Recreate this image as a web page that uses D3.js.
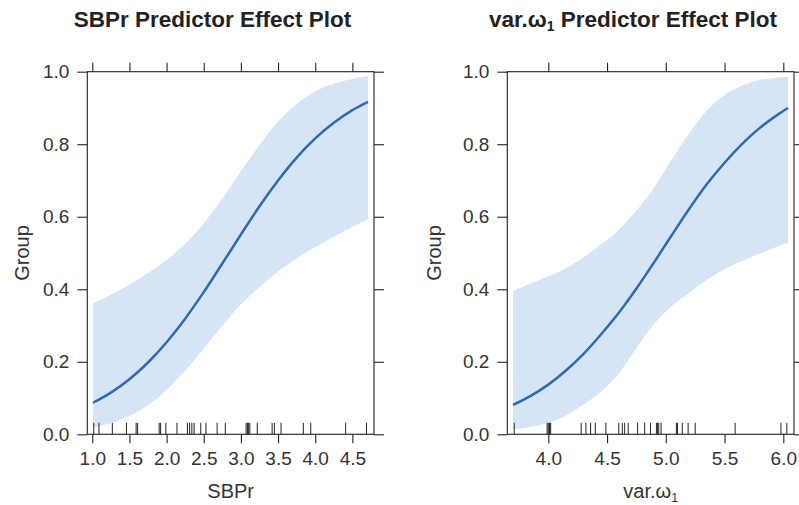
<!DOCTYPE html>
<html><head><meta charset="utf-8">
<script src="https://cdn.jsdelivr.net/npm/d3@7"></script>
<style>
body{margin:0;background:#fff}
text{font-family:"Liberation Sans",Arial,Helvetica,sans-serif}
</style>
</head><body>
<svg id="c" width="799" height="505"></svg>
<script>
// ---- data ----
const yTicks = [0.0, 0.2, 0.4, 0.6, 0.8, 1.0];

const sbprTicks = [1.0, 1.5, 2.0, 2.5, 3.0, 3.5, 4.0, 4.5];
const sbprX     = [1.01, 1.25, 1.5, 1.75, 2.0, 2.25, 2.5, 2.75, 3.0, 3.25, 3.5, 3.75, 4.0, 4.25, 4.5, 4.71];
const sbprFit   = [0.087, 0.115, 0.152, 0.198, 0.254, 0.319, 0.392, 0.471, 0.551, 0.629, 0.700, 0.763, 0.816, 0.859, 0.894, 0.917];
const sbprLower = [0.019, 0.031, 0.050, 0.080, 0.122, 0.175, 0.236, 0.300, 0.358, 0.406, 0.449, 0.485, 0.516, 0.545, 0.572, 0.593];
const sbprUpper = [0.361, 0.385, 0.413, 0.445, 0.481, 0.525, 0.582, 0.650, 0.725, 0.798, 0.862, 0.911, 0.946, 0.967, 0.980, 0.988];
const sbprRug   = [1.02,1.09,1.27,1.46,1.59,1.61,1.90,1.92,1.99,2.14,2.28,2.31,2.34,2.37,2.46,2.53,2.68,2.79,3.07,3.09,3.10,3.12,3.22,3.42,3.45,3.54,3.84,3.94,4.41,4.69];

const varTicks = [4.0, 4.5, 5.0, 5.5, 6.0];
const varX     = [3.70, 3.85, 4.0, 4.15, 4.3, 4.45, 4.6, 4.75, 4.9, 5.05, 5.2, 5.35, 5.5, 5.65, 5.8, 5.95, 6.04];
const varFit   = [0.081, 0.106, 0.137, 0.176, 0.222, 0.276, 0.335, 0.402, 0.474, 0.549, 0.622, 0.690, 0.749, 0.801, 0.845, 0.881, 0.900];
const varLower = [0.014, 0.021, 0.032, 0.051, 0.082, 0.118, 0.168, 0.238, 0.304, 0.354, 0.390, 0.426, 0.455, 0.478, 0.498, 0.518, 0.529];
const varUpper = [0.395, 0.416, 0.436, 0.458, 0.488, 0.524, 0.564, 0.617, 0.680, 0.758, 0.831, 0.893, 0.936, 0.962, 0.977, 0.983, 0.986];
const varRug   = [3.71,3.99,4.00,4.01,4.02,4.28,4.32,4.36,4.40,4.49,4.60,4.63,4.65,4.68,4.76,4.82,4.87,4.92,4.93,4.94,4.96,5.09,5.10,5.14,5.19,5.25,5.59,5.98,6.03];

// ---- styling / layout ----
const LINE = "#2f69b3", BAND = "#d5e5f5", INK = "#222", TXT = "#333";
const FONT = '"Liberation Sans",Arial,Helvetica,sans-serif';
const pTop = 71.7, pBottom = 434.3;

const panels = [
  {title: ["SBPr", null], xlab: ["SBPr", null], xs: sbprX, fit: sbprFit, lo: sbprLower, up: sbprUpper, rug: sbprRug,
   ticks: sbprTicks, dom: [0.933, 4.791], left: 87.3, right: 374, titleX: 212.5, ylabX: 22},
  {title: ["var.ω", "1"], xlab: ["var.ω", "1"], xs: varX, fit: varFit, lo: varLower, up: varUpper, rug: varRug,
   ticks: varTicks, dom: [3.651, 6.091], left: 507.3, right: 794, titleX: 633, ylabX: 434}
];

const svg = d3.select("#c");
const y = d3.scaleLinear().domain([0, 1]).range([pBottom, pTop]);

function addLabel(t, parts, suffix, shift) {
  t.append("tspan").text(parts[0]);
  if (parts[1]) {
    t.append("tspan").attr("dy", shift).attr("font-size", "62%").text(parts[1]);
    if (suffix) t.append("tspan").attr("dy", -shift).text(suffix);
  } else if (suffix) t.append("tspan").text(suffix);
}

panels.forEach(p => {
  const x = d3.scaleLinear().domain(p.dom).range([p.left, p.right]);
  const g = svg.append("g");
  const pts = p.xs.map((v, i) => ({x: v, f: p.fit[i], lo: p.lo[i], up: p.up[i]}));

  g.append("path").datum(pts).attr("fill", BAND)
    .attr("d", d3.area().x(d => x(d.x)).y0(d => y(d.lo)).y1(d => y(d.up)).curve(d3.curveMonotoneX));
  g.append("path").datum(pts).attr("fill", "none").attr("stroke", LINE).attr("stroke-width", 2.5)
    .attr("d", d3.line().x(d => x(d.x)).y(d => y(d.f)).curve(d3.curveMonotoneX));

  g.selectAll("line.rug").data(p.rug).join("line").attr("class", "rug")
    .attr("x1", d => x(d)).attr("x2", d => x(d))
    .attr("y1", pBottom).attr("y2", pBottom - 11.5)
    .attr("stroke", INK).attr("stroke-width", 1);

  g.append("rect").attr("x", p.left).attr("y", pTop).attr("width", p.right - p.left).attr("height", pBottom - pTop)
    .attr("fill", "none").attr("stroke", INK).attr("stroke-width", 1.1);

  const style = a => {
    a.select(".domain").remove();
    a.selectAll("line").attr("stroke", INK).attr("stroke-width", 1.1);
    a.selectAll("text").attr("fill", TXT).attr("font-family", FONT).attr("font-size", 19);
  };
  g.append("g").attr("transform", `translate(0,${pBottom})`)
    .call(d3.axisBottom(x).tickValues(p.ticks).tickFormat(d3.format(".1f")).tickSize(9).tickPadding(8))
    .call(style);
  g.append("g").attr("transform", `translate(0,${pTop})`)
    .call(d3.axisTop(x).tickValues(p.ticks).tickFormat("").tickSize(9))
    .call(style);
  g.append("g").attr("transform", `translate(${p.left},0)`)
    .call(d3.axisLeft(y).tickValues(yTicks).tickFormat(d3.format(".1f")).tickSize(10).tickPadding(8))
    .call(style);
  g.append("g").attr("transform", `translate(${p.right},0)`)
    .call(d3.axisRight(y).tickValues(yTicks).tickFormat("").tickSize(10))
    .call(style);

  const t = svg.append("text").attr("x", p.titleX).attr("y", 27).attr("text-anchor", "middle")
    .attr("font-size", 22.5).attr("font-weight", "bold").attr("fill", INK);
  addLabel(t, p.title, " Predictor Effect Plot", 4);

  const xl = svg.append("text").attr("x", (p.left + p.right) / 2).attr("y", 498).attr("text-anchor", "middle")
    .attr("font-size", 20).attr("fill", TXT);
  addLabel(xl, p.xlab, null, 4);

  svg.append("text").attr("transform", `translate(${p.ylabX},${(pTop + pBottom) / 2}) rotate(-90)`)
    .attr("text-anchor", "middle").attr("dy", "0.35em").attr("font-size", 20).attr("fill", TXT).text("Group");
});
</script>
</body></html>
